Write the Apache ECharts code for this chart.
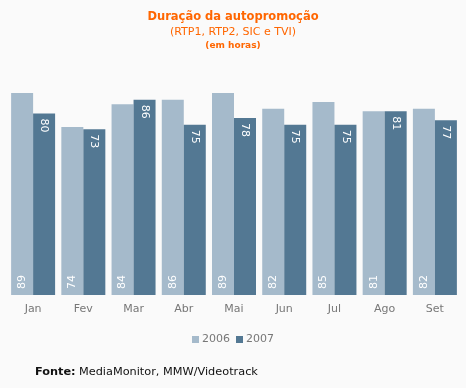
<!DOCTYPE html>
<html>
<head>
<meta charset="utf-8">
<script src="https://cdn.jsdelivr.net/npm/echarts@6/dist/echarts.min.js"></script>
<style>
html,body{margin:0;padding:0;background:#fafafa;}
#c{width:466px;height:388px;}
</style>
</head>
<body>
<div id="c"></div>
<script>
var categories = ['Jan','Fev','Mar','Abr','Mai','Jun','Jul','Ago','Set'];
var seriesNames = ['2006','2007'];
var values2006 = [89,74,84,86,89,82,85,81,82];
var values2007 = [80,73,86,75,78,75,75,81,77];

var FONT = 'DejaVu Sans';
var chart = echarts.init(document.getElementById('c'), null, {renderer:'canvas'});
chart.setOption({
  backgroundColor:'#fafafa',
  animation:false,
  textStyle:{fontFamily:FONT},
  title:{
    left:'center', top:5,
    text:'{a|Duração da autopromoção}\n{b|(RTP1, RTP2, SIC e TVI)}\n{c|(em horas)}',
    textStyle:{
      fontWeight:'normal',
      rich:{
        a:{fontFamily:FONT,fontSize:11.5,fontWeight:'bold',color:'#ff6600',lineHeight:15,align:'center'},
        b:{fontFamily:FONT,fontSize:11,fontWeight:'normal',color:'#ff6600',lineHeight:15,align:'center'},
        c:{fontFamily:FONT,fontSize:9,fontWeight:'bold',color:'#ff6600',lineHeight:11,align:'center'}
      }
    }
  },
  legend:{
    data:seriesNames,
    top:329, left:'center',
    icon:'rect', itemWidth:7, itemHeight:7, itemGap:6,
    textStyle:{fontFamily:FONT,fontSize:11,color:'#777',padding:[0,0,0,-2]}
  },
  grid:{left:8,right:6,top:68,bottom:93,containLabel:false},
  xAxis:{
    type:'category', data:categories,
    axisLine:{show:false}, axisTick:{show:false},
    axisLabel:{fontFamily:FONT,fontSize:11,color:'#777',margin:9}
  },
  yAxis:{type:'value',min:0,max:100,show:false,splitLine:{show:false}},
  series:[
    {name:seriesNames[0],type:'bar',data:values2006,barGap:'0%',barCategoryGap:'12.4%',
     itemStyle:{color:'#a5bacb'},
     label:{show:true,position:'insideBottom',rotate:90,align:'left',verticalAlign:'middle',distance:6,
            color:'#fff',fontFamily:FONT,fontSize:11}},
    {name:seriesNames[1],type:'bar',data:values2007,
     itemStyle:{color:'#537893'},
     label:{show:true,position:'insideTop',rotate:-90,align:'left',verticalAlign:'middle',distance:5,
            color:'#fff',fontFamily:FONT,fontSize:11}}
  ],
  graphic:[{
    type:'text', left:35, top:366,
    style:{
      text:'{b|Fonte:} {n|MediaMonitor, MMW/Videotrack}',
      rich:{
        b:{fontFamily:FONT,fontSize:11.3,fontWeight:'bold',fill:'#111'},
        n:{fontFamily:FONT,fontSize:11.3,fill:'#111'}
      }
    }
  }]
});
</script>
</body>
</html>
